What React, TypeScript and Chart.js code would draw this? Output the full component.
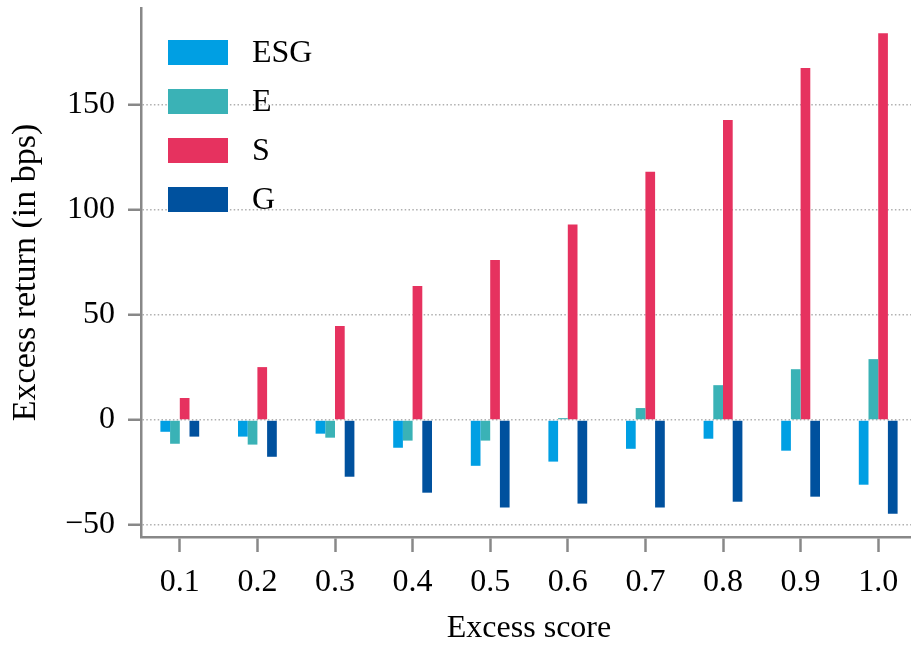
import React, { useEffect, useRef } from "react";
import { Chart, registerables } from "chart.js";

Chart.register(...registerables);

const categories = ["0.1", "0.2", "0.3", "0.4", "0.5", "0.6", "0.7", "0.8", "0.9", "1.0"];
const seriesNames = ["ESG", "E", "S", "G"];
const esgValues = [-5.6, -7.9, -6.5, -13.2, -21.8, -19.8, -13.7, -8.9, -14.6, -30.8];
const eValues = [-11.3, -11.7, -8.4, -9.8, -9.8, 0.9, 5.7, 16.6, 24.2, 29.0];
const sValues = [10.5, 25.2, 44.8, 63.8, 76.2, 93.1, 118.2, 142.9, 167.6, 184.2];
const gValues = [-7.9, -17.5, -27.0, -34.6, -41.7, -39.8, -41.7, -38.9, -36.5, -44.6];
const seriesColors = ["#009FE3", "#3AB2B6", "#E6325F", "#00519E"];
const yTicks = [-50, 0, 50, 100, 150];

const FONT = "'Liberation Serif', 'Times New Roman', serif";

const legendPlugin = {
  id: "innerLegend",
  afterDatasetsDraw(chart: any) {
    const { ctx, chartArea } = chart;
    ctx.save();
    chart.data.datasets.forEach((ds: any, i: number) => {
      const x = chartArea.left + 27;
      const y = chartArea.top + 32 + i * 49;
      ctx.fillStyle = ds.backgroundColor;
      ctx.fillRect(x, y, 60, 25);
      ctx.fillStyle = "#000";
      ctx.font = `32px ${FONT}`;
      ctx.textAlign = "left";
      ctx.textBaseline = "middle";
      ctx.fillText(ds.label, x + 84, y + 13.5);
    });
    ctx.restore();
  },
};

export default function App() {
  const ref = useRef<HTMLCanvasElement>(null);
  useEffect(() => {
    if (!ref.current) return;
    const valueLists = [esgValues, eValues, sValues, gValues];
    const chart = new Chart(ref.current, {
      type: "bar",
      data: {
        labels: categories,
        datasets: seriesNames.map((name, i) => ({
          label: name,
          data: valueLists[i],
          backgroundColor: seriesColors[i],
          borderWidth: 0,
          categoryPercentage: 0.5,
          barPercentage: 1.0,
        })),
      },
      options: {
        animation: false,
        responsive: false,
        devicePixelRatio: 1,
        layout: { padding: { top: 8, right: 0, left: 0, bottom: 0 } },
        plugins: {
          legend: { display: false },
          tooltip: { enabled: false },
        },
        scales: {
          x: {
            type: "category",
            offset: true,
            grid: {
              display: true,
              drawOnChartArea: false,
              drawTicks: true,
              offset: false,
              tickLength: 15,
              tickColor: "#888888",
              tickWidth: 2.5,
              color: "#888888",
            },
            border: { display: true, color: "#888888", width: 2.5 },
            ticks: {
              color: "#000",
              font: { family: FONT, size: 32, lineHeight: 1.2 },
              padding: 11,
              maxRotation: 0,
              autoSkip: false,
            },
            title: {
              display: true,
              text: "Excess score",
              color: "#000",
              font: { family: FONT, size: 32, lineHeight: 1.2 },
              padding: { top: 0, bottom: 1 },
            },
            afterFit(scale: any) {
              scale.height = 112;
              scale.paddingLeft = 0;
              scale.paddingRight = 0;
            },
          },
          y: {
            type: "linear",
            min: -55.7,
            max: 196.2,
            afterBuildTicks(scale: any) {
              scale.ticks = yTicks.map((v) => ({ value: v }));
            },
            grid: {
              display: true,
              drawOnChartArea: true,
              drawTicks: true,
              color: "#b0b0b0",
              lineWidth: 1.5,
              tickLength: 13,
              tickColor: "#888888",
              tickWidth: 2.5,
              tickBorderDash: [],
            },
            border: { display: true, color: "#888888", width: 2.5, dash: [1.5, 2.3] },
            ticks: {
              color: "#000",
              font: { family: FONT, size: 32, lineHeight: 1.2 },
              padding: 13,
              callback: (v: any) => (Number(v) < 0 ? "\u2212" + Math.abs(Number(v)) : String(v)),
            },
            title: {
              display: true,
              text: "Excess return (in bps)",
              color: "#000",
              font: { family: FONT, size: 34, lineHeight: 1.2 },
              padding: { top: 6, bottom: 0 },
            },
            afterFit(scale: any) {
              scale.width = 141;
              scale.paddingTop = 0;
              scale.paddingBottom = 0;
            },
          },
        },
      },
      plugins: [legendPlugin],
    } as any);
    return () => chart.destroy();
  }, []);
  return (
    <div style={{ position: "absolute", left: 0, top: 0, width: 911, height: 649, overflow: "hidden", background: "#fff" }}>
      <canvas ref={ref} width={917} height={649} style={{ width: 917, height: 649, display: "block" }} />
    </div>
  );
}
